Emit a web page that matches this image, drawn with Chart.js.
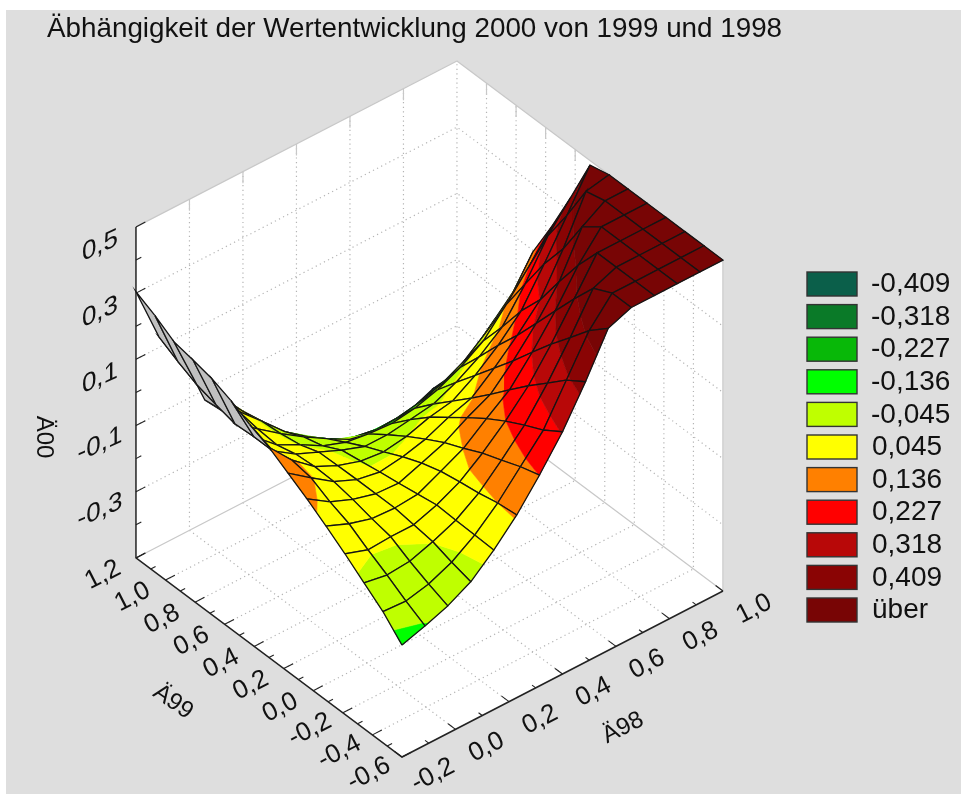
<!DOCTYPE html>
<html>
<head>
<meta charset="utf-8">
<title>Wertentwicklung</title>
<script src="https://cdn.jsdelivr.net/npm/chart.js@4/dist/chart.umd.min.js"></script>
<style>
    html, body { margin: 0; background: #fff; }
    canvas { display: block; }
</style>
</head>
<body>
<canvas id="surfaceChart" width="961" height="794"></canvas>
<script>
const titleText = 'Äbhängigkeit der Wertentwicklung 2000 von 1999 und 1998';

// axis ticks
const a98Ticks = [-0.2, 0.0, 0.2, 0.4, 0.6, 0.8, 1.0];
const a98Labels = ['-0,2', '0,0', '0,2', '0,4', '0,6', '0,8', '1,0'];
const b99Ticks = [-0.6, -0.4, -0.2, 0.0, 0.2, 0.4, 0.6, 0.8, 1.0, 1.2];
const b99Labels = ['-0,6', '-0,4', '-0,2', '0,0', '0,2', '0,4', '0,6', '0,8', '1,0', '1,2'];
const a00Ticks = [-0.3, -0.1, 0.1, 0.3];
const a00Labels = ['-0,3', '-0,1', '0,1', '0,3', '0,5'];
const a00LabelPos = [-0.3, -0.1, 0.1, 0.3, 0.5];

// legend
const bandTop = [-0.409, -0.318, -0.227, -0.136, -0.045, 0.045, 0.136, 0.227, 0.318, 0.409, 9];
const bandLabels = ['-0,409', '-0,318', '-0,227', '-0,136', '-0,045', '0,045', '0,136', '0,227', '0,318', '0,409', 'über'];
const bandColors = ['#0b5f4a', '#0a7a28', '#08b808', '#00ff00', '#bfff00', '#ffff00', '#ff8000', '#ff0000', '#b80808', '#8a0404', '#780505'];

// surface grid
const a98Grid = [-0.2, -0.114, -0.029, 0.057, 0.143, 0.229, 0.314, 0.4, 0.486, 0.571, 0.657, 0.743, 0.829, 0.914, 1.0];
const b99Grid = [-0.6, -0.471, -0.343, -0.214, -0.086, 0.043, 0.171, 0.3, 0.429, 0.557, 0.686, 0.814, 0.943, 1.071, 1.2];
// one row per a98Grid value, read along b99Grid
const a00Values = [
    [-0.162, -0.104, -0.06, -0.015, 0.026, 0.065, 0.1, 0.135, 0.16, 0.19, 0.213, 0.227, 0.239, 0.275, 0.304],
    [-0.14, -0.108, -0.072, -0.039, -0.003, 0.02, 0.05, 0.06, 0.045, 0.045, 0.041, 0.056, 0.073, 0.1, 0.132],
    [-0.115, -0.092, -0.066, -0.035, -0.023, -0.008, 0.003, 0.005, 0.0, -0.015, -0.01, 0.0, 0.004, -0.006, 0.04],
    [-0.078, -0.062, -0.043, -0.035, -0.027, -0.027, -0.027, -0.028, -0.03, -0.05, -0.06, -0.065, -0.078, -0.121, -0.13],
    [-0.018, -0.016, -0.014, -0.011, -0.021, -0.031, -0.04, -0.05, -0.06, -0.09, -0.106, -0.133, -0.157, -0.212, -0.21],
    [0.052, 0.045, 0.032, 0.023, 0.012, -0.006, -0.03, -0.058, -0.085, -0.115, -0.147, -0.184, -0.226, -0.294, -0.3],
    [0.137, 0.119, 0.096, 0.074, 0.046, 0.02, -0.012, -0.047, -0.085, -0.125, -0.185, -0.235, -0.28, -0.36, -0.38],
    [0.232, 0.194, 0.166, 0.135, 0.1, 0.06, 0.018, -0.025, -0.075, -0.13, -0.2, -0.257, -0.324, -0.417, -0.44],
    [0.347, 0.309, 0.257, 0.206, 0.151, 0.094, 0.04, -0.012, -0.064, -0.12, -0.195, -0.269, -0.349, -0.454, -0.48],
    [0.473, 0.423, 0.359, 0.296, 0.229, 0.16, 0.095, 0.03, -0.034, -0.1, -0.183, -0.271, -0.362, -0.479, -0.49],
    [0.5, 0.5, 0.472, 0.397, 0.318, 0.237, 0.158, 0.085, 0.007, -0.068, -0.162, -0.261, -0.364, -0.494, -0.5],
    [0.5, 0.5, 0.5, 0.5, 0.42, 0.327, 0.23, 0.153, 0.061, -0.024, -0.127, -0.238, -0.353, -0.495, -0.5],
    [0.5, 0.5, 0.5, 0.5, 0.5, 0.457, 0.348, 0.259, 0.155, 0.05, -0.072, -0.195, -0.302, -0.457, -0.48],
    [0.5, 0.5, 0.5, 0.5, 0.5, 0.5, 0.486, 0.37, 0.265, 0.13, -0.01, -0.14, -0.26, -0.398, -0.452],
    [0.5, 0.5, 0.5, 0.5, 0.5, 0.5, 0.5, 0.486, 0.346, 0.216, 0.095, -0.065, -0.193, -0.32, -0.44]
];

const aMin = -0.2, aMax = 1.0, bMin = -0.6, bMax = 1.2, zMin = -0.5, zMax = 0.5;
const backColor = '#c0c0c0';
const meshColor = '#141414';
const gridColor = '#b4b4b4';
const edgeColor = '#c8c8c8';
const axisColor = '#222222';

// Fixed axonometric view of the cube, values of the x/y scales are screen units
function project(a, b, z) {
    return {
        x: 402 + (a - aMin) * 267.5 - (b - bMin) * 147.8,
        y: 757 - (a - aMin) * 138.3 - (b - bMin) * 110.6 - (z - zMin) * 331
    };
}

function polygon(points, color) {
    return {
        data: points.concat([points[0]]), showLine: true, fill: 'shape',
        backgroundColor: color, borderColor: color, borderWidth: 0.6,
        pointRadius: 0, clip: false
    };
}

function stroke(points, color, width, dash) {
    return {
        data: points, showLine: true, fill: false,
        borderColor: color, borderWidth: width, borderDash: dash || [],
        pointRadius: 0, clip: false
    };
}

// Cut a cell down to the part lying between two levels
function clipLevel(poly, level, keepAbove) {
    const out = [];
    for (let k = 0; k < poly.length; k++) {
        const p = poly[k], q = poly[(k + 1) % poly.length];
        const pIn = keepAbove ? p.z >= level : p.z <= level;
        const qIn = keepAbove ? q.z >= level : q.z <= level;
        if (pIn) out.push(p);
        if (pIn !== qIn) {
            const t = (level - p.z) / (q.z - p.z);
            out.push({ a: p.a + t * (q.a - p.a), b: p.b + t * (q.b - p.b), z: level });
        }
    }
    return out;
}

function buildFrame() {
    const sets = [];
    const P = project;

    // walls and floor
    sets.push(polygon([P(aMin, bMax, zMin), P(aMin, bMax, zMax), P(aMax, bMax, zMax), P(aMax, bMax, zMin)], '#ffffff'));
    sets.push(polygon([P(aMax, bMax, zMin), P(aMax, bMax, zMax), P(aMax, bMin, zMax), P(aMax, bMin, zMin)], '#ffffff'));
    sets.push(polygon([P(aMin, bMin, zMin), P(aMax, bMin, zMin), P(aMax, bMax, zMin), P(aMin, bMax, zMin)], '#ffffff'));

    // dotted grid
    const dots = [1.2, 3.4];
    a98Ticks.slice(1, -1).forEach(a => {
        sets.push(stroke([P(a, bMin, zMin), P(a, bMax, zMin), P(a, bMax, zMax)], gridColor, 1.2, dots));
        sets.push(stroke([P(a, bMax, zMax), P(a, bMax, zMax - 0.035)], edgeColor, 1.2));
    });
    b99Ticks.slice(1, -1).forEach(b => {
        sets.push(stroke([P(aMin, b, zMin), P(aMax, b, zMin), P(aMax, b, zMax)], gridColor, 1.2, dots));
        sets.push(stroke([P(aMax, b, zMax), P(aMax, b, zMax - 0.035)], edgeColor, 1.2));
    });
    a00Ticks.forEach(z => {
        sets.push(stroke([P(aMin, bMax, z), P(aMax, bMax, z), P(aMax, bMin, z)], gridColor, 1.2, dots));
    });
    sets.push(stroke([P(aMax, bMax, zMin), P(aMax, bMax, zMax)], gridColor, 1.2, dots));

    // light edges of the box
    sets.push(stroke([P(aMin, bMax, zMax), P(aMax, bMax, zMax), P(aMax, bMin, zMax), P(aMax, bMin, zMin)], edgeColor, 1.4));
    sets.push(stroke([P(aMin, bMax, zMin), P(aMax, bMax, zMin), P(aMax, bMin, zMin)], edgeColor, 1.2));

    // dark axes
    sets.push(stroke([P(aMin, bMax, zMax), P(aMin, bMax, zMin), P(aMin, bMin, zMin), P(aMax, bMin, zMin)], axisColor, 1.5));

    // tick marks, every 0.1
    for (let k = 0; k <= 12; k++) {
        const a = aMin + k * 0.1;
        const len = k % 2 === 0 ? 0.05 : 0.025;
        sets.push(stroke([P(a, bMin, zMin), P(a, bMin + len, zMin)], axisColor, 1.1));
    }
    for (let k = 0; k <= 18; k++) {
        const b = bMin + k * 0.1;
        const len = k % 2 === 0 ? 0.035 : 0.018;
        sets.push(stroke([P(aMin, b, zMin), P(aMin + len, b, zMin)], axisColor, 1.1));
    }
    for (let k = 0; k <= 10; k++) {
        const z = zMin + k * 0.1;
        const len = k % 2 === 0 ? 0.035 : 0.02;
        sets.push(stroke([P(aMin, bMax, z), P(aMin + len, bMax, z)], axisColor, 1.1));
    }
    return sets;
}

function buildSurface() {
    const sets = [];
    // far corner first, so nearer cells paint over it
    for (let i = a98Grid.length - 2; i >= 0; i--) {
        for (let j = b99Grid.length - 2; j >= 0; j--) {
            const cell = [[i, j], [i + 1, j], [i + 1, j + 1], [i, j + 1]].map(c => ({
                a: a98Grid[c[0]], b: b99Grid[c[1]], z: a00Values[c[0]][c[1]]
            }));
            const s = cell.map(v => project(v.a, v.b, v.z));
            const cross = (s[2].x - s[0].x) * (s[3].y - s[1].y) - (s[2].y - s[0].y) * (s[3].x - s[1].x);
            if (cross > 0) {
                // underside of the sheet
                sets.push(polygon(s, backColor));
            } else {
                let low = -9;
                bandTop.forEach((top, k) => {
                    const part = clipLevel(clipLevel(cell, low, true), top, false);
                    if (part.length > 2) {
                        sets.push(polygon(part.map(v => project(v.a, v.b, v.z)), bandColors[k]));
                    }
                    low = top;
                });
            }
            sets.push(stroke(s.concat([s[0]]), meshColor, 1.3));
        }
    }
    return sets;
}

function textAt(ctx, text, x, y, m) {
    ctx.save();
    ctx.setTransform(m[0], m[1], m[2], m[3], x, y);
    ctx.fillText(text, 0, 0);
    ctx.restore();
}

// Gray page, legend and the slanted axis texts
const surfaceDecor = {
    id: 'surfaceDecor',
    beforeDraw(chart) {
        const ctx = chart.ctx;
        ctx.save();
        ctx.fillStyle = '#dedede';
        ctx.fillRect(6, 10, 955, 784);
        ctx.restore();
    },
    afterDraw(chart) {
        const ctx = chart.ctx;
        const sx = chart.scales.x, sy = chart.scales.y;
        const px = p => ({ x: sx.getPixelForValue(p.x), y: sy.getPixelForValue(p.y) });
        ctx.save();
        ctx.fillStyle = '#111';
        ctx.textAlign = 'center';
        ctx.textBaseline = 'middle';

        const rot = deg => {
            const r = deg * Math.PI / 180;
            return [Math.cos(r), Math.sin(r), -Math.sin(r), Math.cos(r)];
        };
        ctx.font = '26px "Liberation Sans", Arial, sans-serif';
        a98Ticks.forEach((a, k) => {
            const p = px(project(a, bMin, zMin));
            textAt(ctx, a98Labels[k], p.x + 31, p.y + 18, rot(-27));
        });
        b99Ticks.forEach((b, k) => {
            const p = px(project(aMin, b, zMin));
            textAt(ctx, b99Labels[k], p.x - 33, p.y + 17, rot(-27));
        });
        a00LabelPos.forEach((z, k) => {
            const p = px(project(aMin, bMax, z));
            textAt(ctx, a00Labels[k], p.x - 36, p.y + 19, [1, -0.45, 0, 1]);
        });
        ctx.font = '24px "Liberation Sans", Arial, sans-serif';
        textAt(ctx, 'Ä98', 623, 728, rot(-27));
        textAt(ctx, 'Ä99', 173, 702, rot(35));
        textAt(ctx, 'Ä00', 44, 437, rot(90));

        // legend
        ctx.textAlign = 'left';
        ctx.font = '28px "Liberation Sans", Arial, sans-serif';
        bandLabels.forEach((label, k) => {
            const y = 272 + k * 32.6;
            ctx.fillStyle = bandColors[k];
            ctx.fillRect(807, y, 50, 24);
            ctx.strokeStyle = '#333';
            ctx.lineWidth = 1.4;
            ctx.strokeRect(807, y, 50, 24);
            ctx.fillStyle = '#111';
            ctx.fillText(label, label.startsWith('-') ? 871 : 872, y + 12.5);
        });
        ctx.restore();
    }
};

const frameSets = buildFrame();
const surfaceSets = buildSurface();

new Chart(document.getElementById('surfaceChart').getContext('2d'), {
    type: 'scatter',
    // Chart.js paints the first dataset last
    data: { datasets: frameSets.concat(surfaceSets).reverse() },
    options: {
        responsive: false,
        animation: false,
        events: [],
        layout: { padding: { left: 47 } },
        scales: {
            x: { display: false, min: 47, max: 961 },
            y: { display: false, reverse: true, min: 48.6, max: 794 }
        },
        plugins: {
            legend: { display: false },
            tooltip: { enabled: false },
            title: {
                display: true,
                text: titleText,
                align: 'start',
                color: '#111',
                font: { family: '"Liberation Sans", Arial, sans-serif', size: 27.8, weight: 'normal' },
                padding: { top: 13, bottom: 2.24 }
            }
        }
    },
    plugins: [surfaceDecor]
});
</script>
</body>
</html>
